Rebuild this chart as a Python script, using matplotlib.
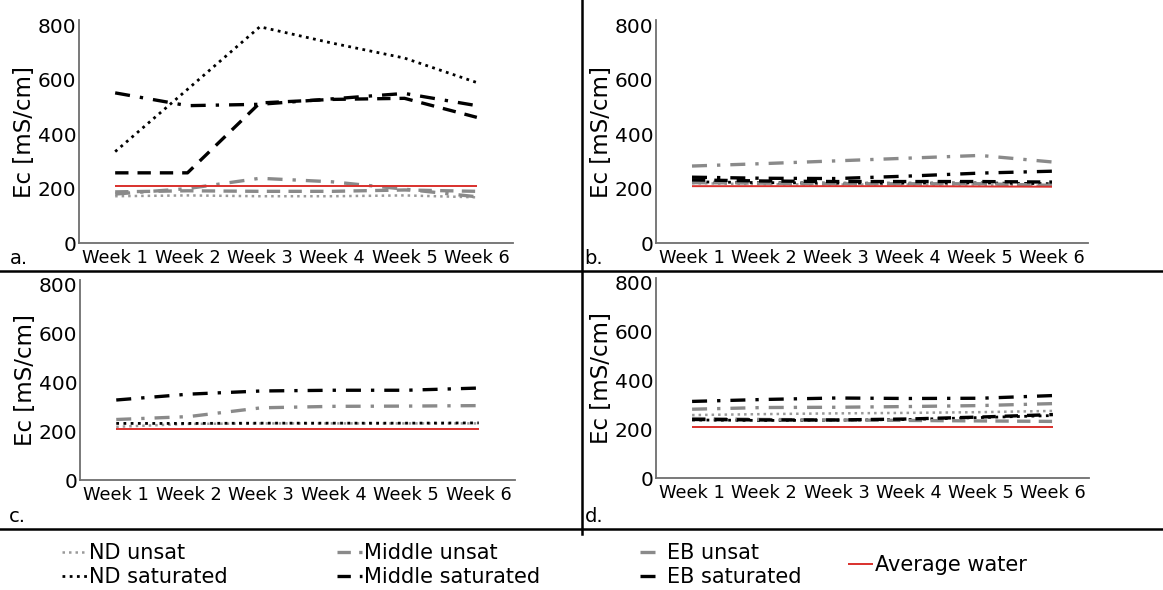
import numpy as np
import matplotlib
matplotlib.use("Agg")
import matplotlib.pyplot as plt
from matplotlib.lines import Line2D

plt.rcParams['font.family'] = ['DejaVu Sans']

weeks = ["Week 1", "Week 2", "Week 3", "Week 4", "Week 5", "Week 6"]
yticks = [0, 200, 400, 600, 800]
panel_labels = ["a.", "b.", "c.", "d."]

# Electrical conductivity per panel and series (mS/cm); NaN = not measured
nan = np.nan
nd_unsat = {
    "a": [172, 175, 172, 172, 175, 168],
    "b": [220, 216, 215, 215, 215, 210],
    "c": [218, 230, 232, 232, 232, 232],
    "d": [258, 262, 265, 267, 270, 275],
}
nd_sat = {
    "a": [336, 565, 795, 735, 680, 590],
    "b": [225, 222, 220, 220, 221, 218],
    "c": [232, 232, 233, 233, 233, 234],
    "d": [238, 236, 237, 240, 248, 256],
}
middle_unsat = {
    "a": [188, 192, 190, 190, 195, 190],
    "b": [222, 220, 218, 218, 218, 212],
    "c": [nan, nan, nan, nan, nan, nan],
    "d": [244, 240, 238, 236, 234, 232],
}
middle_sat = {
    "a": [258, 258, 515, 528, 532, 462],
    "b": [232, 228, 226, 226, 226, 224],
    "c": [nan, nan, nan, nan, nan, nan],
    "d": [240, 238, 238, 242, 250, 260],
}
eb_unsat = {
    "a": [180, 200, 238, 225, 198, 170],
    "b": [283, 292, 302, 312, 322, 298],
    "c": [248, 260, 296, 302, 303, 305],
    "d": [282, 289, 290, 293, 297, 305],
}
eb_sat = {
    "a": [552, 505, 510, 530, 550, 505],
    "b": [242, 238, 237, 246, 257, 264],
    "c": [328, 352, 365, 368, 368, 377],
    "d": [314, 322, 328, 326, 327, 338],
}
avg_water = {
    "a": [210, 210, 210, 210, 210, 210],
    "b": [209, 209, 209, 209, 208, 207],
    "c": [209, 209, 209, 209, 209, 209],
    "d": [209, 209, 209, 209, 209, 209],
}

GRAY = "#8a8a8a"
RED = "#d9302c"

series = [
    ("ND unsat", nd_unsat, dict(color="#9a9a9a", lw=1.8, ls=(0, (1, 1.6)))),
    ("ND saturated", nd_sat, dict(color="black", lw=2.0, ls=(0, (1, 1.6)))),
    ("Middle unsat", middle_unsat, dict(color=GRAY, lw=2.4, ls=(0, (4, 2.5)))),
    ("Middle saturated", middle_sat, dict(color="black", lw=2.4, ls=(0, (4, 2.7)))),
    ("EB unsat", eb_unsat, dict(color=GRAY, lw=2.4, ls=(0, (4.5, 3, 1, 3)))),
    ("EB saturated", eb_sat, dict(color="black", lw=2.4, ls=(0, (4.5, 3, 1, 3)))),
    ("Average water", avg_water, dict(color=RED, lw=1.4, ls="-")),
]

W, H = 1163, 590
fig = plt.figure(figsize=(W / 100, H / 100), dpi=100)


def frac(left, top, right, bottom):
    return [left / W, 1 - bottom / H, (right - left) / W, (bottom - top) / H]


boxes = {
    "a": frac(79, 20, 513, 243),
    "b": frac(656, 20, 1088, 243),
    "c": frac(80, 280, 515, 480),
    "d": frac(656, 278, 1089, 478),
}
label_pos = {"a": (10, 258), "b": (584, 258), "c": (9, 517), "d": (585, 517)}

x = np.arange(len(weeks))
handles = {}
for key, lab in zip(["a", "b", "c", "d"], panel_labels):
    ax = fig.add_axes(boxes[key])
    for name, data, style in series:
        (ln,) = ax.plot(x, data[key], label=name, solid_capstyle="butt",
                        dash_capstyle="butt", **style)
        handles[name] = ln
    ax.set_xlim(-0.5, len(weeks) - 0.5)
    ax.set_ylim(0, 820)
    ax.set_xticks(x)
    ax.set_xticklabels(weeks, fontsize=12.8)
    ax.set_yticks(yticks)
    ax.set_yticklabels([str(v) for v in yticks], fontsize=14.5)
    ax.tick_params(length=0, pad=2)
    ax.tick_params(axis="x", pad=4)
    for side in ("top", "right"):
        ax.spines[side].set_visible(False)
    for side in ("left", "bottom"):
        ax.spines[side].set_color("#6e6e6e")
        ax.spines[side].set_linewidth(1.3)
    ax.set_ylabel("Ec [mS/cm]", fontsize=16.5, labelpad=1)
    lx, ly = label_pos[key]
    fig.text(lx / W, 1 - ly / H, lab, fontsize=14, va="center", ha="left")

# Panel separators
sep = dict(color="black", lw=1.8, transform=fig.transFigure, clip_on=False)
fig.add_artist(Line2D([582 / W, 582 / W], [1, 1 - 534 / H], **sep))
fig.add_artist(Line2D([0, 1], [1 - 271 / H, 1 - 271 / H], **sep))
fig.add_artist(Line2D([0, 1], [1 - 529 / H, 1 - 529 / H], **sep))

# Legend: three two-row columns plus the water reference
leg_kw = dict(frameon=False, fontsize=15, handlelength=1.2, handletextpad=0.1,
              borderpad=0, borderaxespad=0, labelspacing=0.2)
columns = [
    (["ND unsat", "ND saturated"], 62),
    (["Middle unsat", "Middle saturated"], 337),
    (["EB unsat", "EB saturated"], 640),
]
for names, left in columns:
    fig.legend([handles[n] for n in names], names, loc="upper left",
               bbox_to_anchor=(left / W, 1 - 543 / H), **leg_kw)
fig.legend([handles["Average water"]], ["Average water"], loc="center left",
           bbox_to_anchor=(848 / W, 1 - 565 / H), **leg_kw)

fig.savefig("out.png", dpi=100)
